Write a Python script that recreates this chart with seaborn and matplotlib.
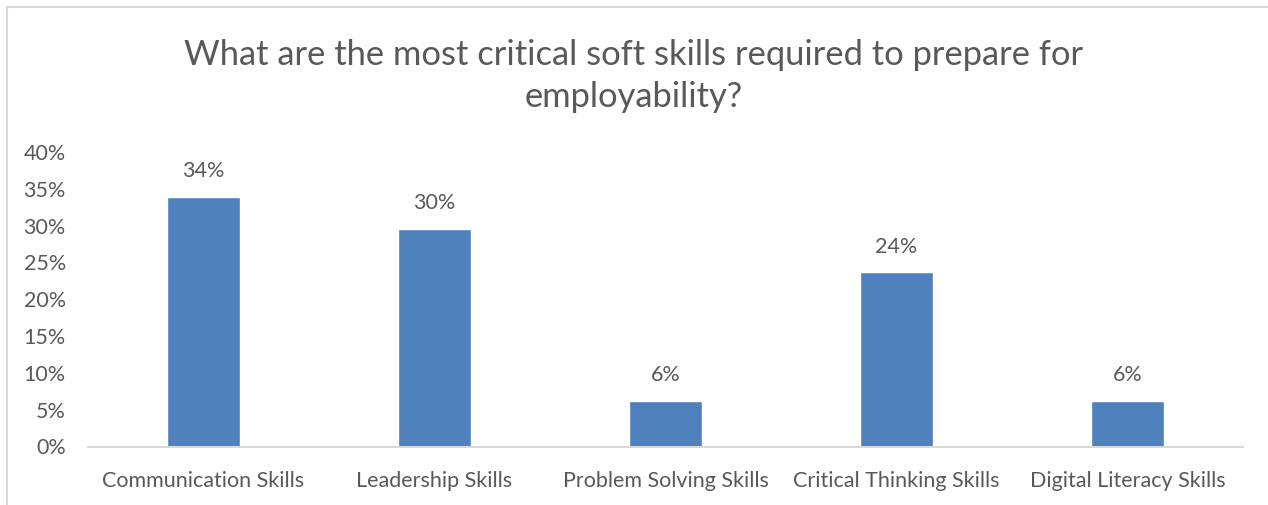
import matplotlib
matplotlib.use("Agg")
import matplotlib.pyplot as plt
from matplotlib.lines import Line2D
import seaborn as sns
import pandas as pd

categories = ["Communication Skills", "Leadership Skills", "Problem Solving Skills",
              "Critical Thinking Skills", "Digital Literacy Skills"]
shares = [0.340, 0.297, 0.063, 0.238, 0.063]
y_ticks = [0.0, 0.05, 0.10, 0.15, 0.20, 0.25, 0.30, 0.35, 0.40]
y_tick_labels = ["0%", "5%", "10%", "15%", "20%", "25%", "30%", "35%", "40%"]
title = "What are the most critical soft skills required to prepare for\nemployability?"

df = pd.DataFrame({"skill": categories, "share": shares})

sns.set_theme(style="white")
plt.rcParams["font.family"] = ["Lato", "DejaVu Sans"]

W, H = 1268, 506
fig = plt.figure(figsize=(W / 100, H / 100), dpi=100)
ax = fig.add_axes([88 / W, 1 - 448.3 / H, 1155 / W, (448.3 - 154) / H])

text_color = "#595959"
bar_color = "#4f81bd"
label_size = 15.5

sns.barplot(data=df, x="skill", y="share", color=bar_color, width=0.316,
            saturation=1, ax=ax)

ax.set_ylim(0, 0.40)
ax.set_xlim(-0.5, len(categories) - 0.5)
ax.set_yticks(y_ticks)
ax.set_yticklabels(y_tick_labels)
ax.set_xlabel("")
ax.set_ylabel("")
ax.tick_params(axis="y", length=0, pad=16, labelsize=label_size, labelcolor=text_color)
ax.tick_params(axis="x", length=0, pad=16, labelsize=label_size, labelcolor=text_color)
for lbl in ax.get_yticklabels():
    lbl.set_verticalalignment("center")

for side in ["left", "right", "top"]:
    ax.spines[side].set_visible(False)
ax.spines["bottom"].set_color("#d9d9d9")
ax.spines["bottom"].set_linewidth(1.5)

for container in ax.containers:
    ax.bar_label(container, labels=[f"{v:.0%}" for v in shares], padding=12,
                 fontsize=label_size, color=text_color)

fig.text(0.5, 1 - 76 / H, title, ha="center", va="center", fontsize=24.8,
         color=text_color, linespacing=1.38)

# thin frame along the top and left of the chart area
frame_kw = dict(color="#d9d9d9", linewidth=1.5, transform=fig.transFigure)
fig.add_artist(Line2D([6.5 / W, 1.0], [1 - 7.5 / H, 1 - 7.5 / H], **frame_kw))
fig.add_artist(Line2D([6.5 / W, 6.5 / W], [0.0, 1 - 7.5 / H], **frame_kw))

fig.savefig("out.png", dpi=100, facecolor="white")
